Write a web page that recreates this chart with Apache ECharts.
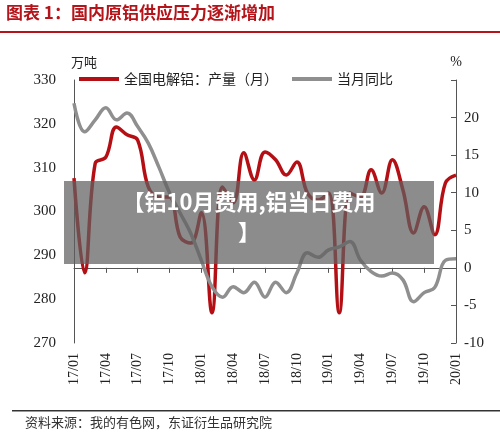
<!DOCTYPE html>
<html><head><meta charset="utf-8">
<script src="https://cdn.jsdelivr.net/npm/echarts@6/dist/echarts.min.js"></script>
<style>html,body{margin:0;padding:0;background:#fff}#c{width:500px;height:447px}</style>
</head><body><div id="c"></div>
<script>
const months = [];
for (let y = 17; y <= 20; y++) for (let m = 1; m <= 12; m++) { if (y === 20 && m > 1) break; months.push(y + '/' + String(m).padStart(2, '0')); }
const output = [307.6,286,311,312.4,319.3,317.5,316.3,305.6,303.3,303.3,294.2,292.8,299.7,276.9,305.6,302,313.4,307.2,313.6,311.8,308.3,311.3,304.2,302.6,304.2,276.9,304.2,303.3,309.5,304.2,311.8,304.9,295.1,301.1,294.7,306.5,308.3];
const yoy = [21.9,18.1,19.7,21.3,19.7,20.6,18.8,16.6,13.4,10,7.3,4.6,1.0,-2.5,-3.9,-2.5,-3.3,-1.9,-3.9,-1.9,-3.3,-0.7,2,1.4,2.4,2.8,3.5,1.0,-0.5,-1.1,-0.7,-1.6,-4.5,-3.3,-2.6,1.0,1.2];
const leftTicks = [270,330,10];
const rightTicks = [-10,25,5];
const serif = 'Liberation Serif';
const chart = echarts.init(document.getElementById('c'));
chart.setOption({
  animation:false,
  grid:{left:74,right:44,top:80,bottom:104},
  legend:{top:67,left:74,itemWidth:40,itemHeight:4,itemGap:14,
    textStyle:{fontFamily:'Noto Sans CJK SC',fontSize:14,color:'#222'},
    data:[{name:'全国电解铝：产量（月）',icon:'rect'},{name:'当月同比',icon:'rect'}]},
  xAxis:{type:'category',data:months,boundaryGap:false,
    axisLine:{lineStyle:{color:'#555'}},axisTick:{interval:2,lineStyle:{color:'#555'}},
    axisLabel:{interval:2,rotate:90,fontFamily:serif,fontSize:14,color:'#222',margin:10}},
  yAxis:[
    {type:'value',min:leftTicks[0],max:leftTicks[1],interval:leftTicks[2],name:'万吨',
     nameTextStyle:{fontFamily:'Noto Sans CJK SC',fontSize:13,color:'#222',padding:[0,0,-4,20]},
     axisLine:{show:true,lineStyle:{color:'#555'}},axisTick:{show:false},splitLine:{show:false},
     axisLabel:{fontFamily:serif,fontSize:15,color:'#222',margin:18}},
    {type:'value',min:rightTicks[0],max:rightTicks[1],interval:rightTicks[2],name:'%',
     nameTextStyle:{fontFamily:serif,fontSize:14,color:'#222',padding:[0,0,-4,0]},
     axisLine:{show:true,lineStyle:{color:'#555'}},axisTick:{show:true,inside:true,lineStyle:{color:'#555'}},splitLine:{show:false},
     axisLabel:{fontFamily:serif,fontSize:15,color:'#222',margin:8,formatter:v=>v===25?'':v}}
  ],
  series:[
    {name:'全国电解铝：产量（月）',type:'line',data:output,smooth:0.4,showSymbol:false,
     lineStyle:{width:3.5,color:'#b40f14'},itemStyle:{color:'#b40f14'}},
    {name:'当月同比',type:'line',yAxisIndex:1,data:yoy,smooth:0.4,showSymbol:false,
     lineStyle:{width:3.5,color:'#8f8f8f'},itemStyle:{color:'#8f8f8f'}}
  ],
  graphic:[
    {type:'text',left:6,top:4,style:{text:'图表 1：国内原铝供应压力逐渐增加',fontFamily:'Noto Sans CJK SC',fontWeight:'bold',fontSize:17,fill:'#b4141a'}},
    {type:'rect',shape:{x:0,y:31,width:500,height:2},style:{fill:'#b4141a'}},
    {type:'rect',shape:{x:12,y:410,width:488,height:1.5},style:{fill:'#333'}},
    {type:'text',left:25,top:416,style:{text:'资料来源：我的有色网，东证衍生品研究院',fontFamily:'Noto Sans CJK SC',fontSize:13,fill:'#333'}},
    {type:'rect',z:100,shape:{x:64,y:181,width:370,height:83},style:{fill:'rgba(95,95,95,0.72)'}},
    {type:'text',z:101,x:249,y:191,style:{text:'【铝10月费用,铝当日费用',align:'center',fontFamily:'Noto Sans CJK SC',fontWeight:'bold',fontSize:22,fill:'#fff'}},
    {type:'text',z:101,x:249,y:221,style:{text:'】',align:'center',fontFamily:'Noto Sans CJK SC',fontWeight:'bold',fontSize:22,fill:'#fff'}}
  ]
});
</script></body></html>
